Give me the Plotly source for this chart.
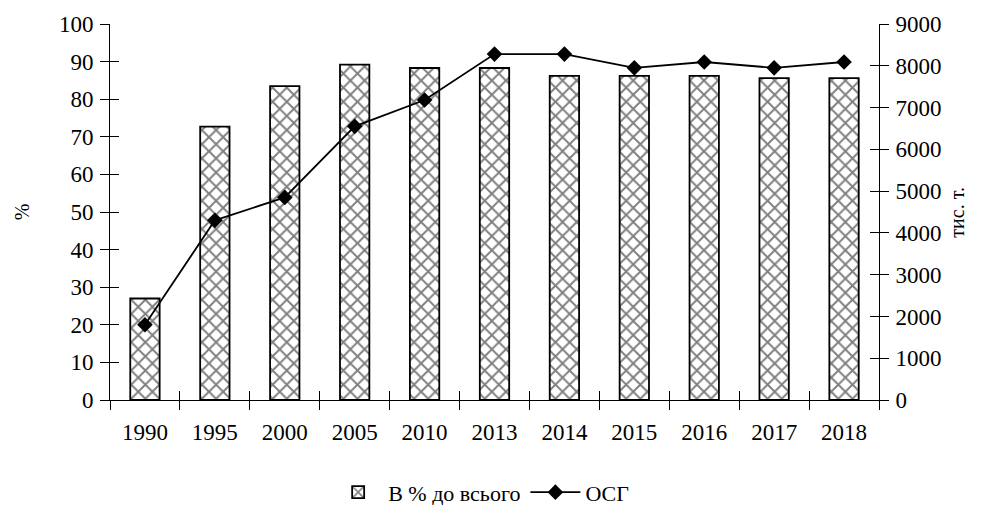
import plotly.graph_objects as go

years = ["1990", "1995", "2000", "2005", "2010", "2013", "2014", "2015", "2016", "2017", "2018"]
share_pct = [27.0, 72.7, 83.5, 89.2, 88.3, 88.3, 86.2, 86.2, 86.2, 85.6, 85.6]
osg_kt = [1800, 4300, 4850, 6550, 7180, 8280, 8280, 7950, 8090, 7950, 8090]

FONT = "Liberation Serif"
xr = [-0.5, len(years) - 0.5]

fig = go.Figure()
fig.add_trace(go.Bar(
    x=years, y=share_pct, name="В % до всього",
    width=0.42,
    marker=dict(color="white", line=dict(color="black", width=1.8),
                pattern=dict(shape="x", size=10, solidity=0.35, fgcolor="black", bgcolor="white")),
    xaxis="x", yaxis="y",
))
fig.add_trace(go.Scatter(
    x=years, y=osg_kt, name="ОСГ", mode="lines+markers",
    line=dict(color="black", width=1.8),
    marker=dict(symbol="diamond", size=12, color="black"),
    xaxis="x", yaxis="y2",
))

axis_common = dict(showgrid=False, zeroline=False, showline=True, linecolor="black", linewidth=1,
                   tickcolor="black", ticklen=9, tickwidth=1, automargin=False)

fig.update_layout(
    width=987, height=505,
    margin=dict(l=110, r=108, t=24, b=105, autoexpand=False),
    paper_bgcolor="white", plot_bgcolor="white",
    font=dict(family=FONT, color="black", size=20),
    showlegend=True,
    legend=dict(orientation="h", xref="container", yref="container", x=0.488, xanchor="center",
                y=0.025, yanchor="middle",
                font=dict(family=FONT, size=22), traceorder="normal", itemwidth=50),
    xaxis=dict(**axis_common, type="category", range=xr, ticks="outside", tickson="boundaries",
               tickfont=dict(family=FONT, size=23), ticklabelstandoff=11),
    xaxis2=dict(**axis_common, type="category", range=xr, overlaying="x", ticks="inside",
                tickson="boundaries", showticklabels=False, anchor="y", side="bottom"),
    yaxis=dict(**axis_common, range=[0, 100], dtick=10, ticks="outside",
               tickfont=dict(family=FONT, size=23), ticklabelstandoff=2),
    yaxis3=dict(**axis_common, range=[0, 100], dtick=10, ticks="inside", overlaying="y",
                showticklabels=False, side="left", anchor="x"),
    yaxis2=dict(**axis_common, range=[0, 9000], dtick=1000, ticks="outside", overlaying="y",
                side="right", tickfont=dict(family=FONT, size=23), ticklabelstandoff=2),
    yaxis4=dict(**axis_common, range=[0, 9000], dtick=1000, ticks="inside", overlaying="y",
                side="right", showticklabels=False, anchor="x"),
    annotations=[
        dict(text="%", xref="paper", yref="paper", x=-0.114, y=0.5, showarrow=False,
             textangle=-90, font=dict(family=FONT, size=20), xanchor="center", yanchor="middle"),
        dict(text="тис. т.", xref="paper", yref="paper", x=1.101, y=0.5, showarrow=False,
             textangle=-90, font=dict(family=FONT, size=20), xanchor="center", yanchor="middle"),
    ],
)

fig.add_trace(go.Scatter(x=years, y=share_pct, xaxis="x2", yaxis="y3", mode="markers",
                         marker=dict(opacity=0, size=1), showlegend=False, hoverinfo="skip"))
fig.add_trace(go.Scatter(x=years, y=osg_kt, xaxis="x", yaxis="y4", mode="markers",
                         marker=dict(opacity=0, size=1), showlegend=False, hoverinfo="skip"))

fig.write_html("out.html", config={"displayModeBar": False},
               post_script="document.body.style.margin='0';document.body.style.overflow='hidden';")
